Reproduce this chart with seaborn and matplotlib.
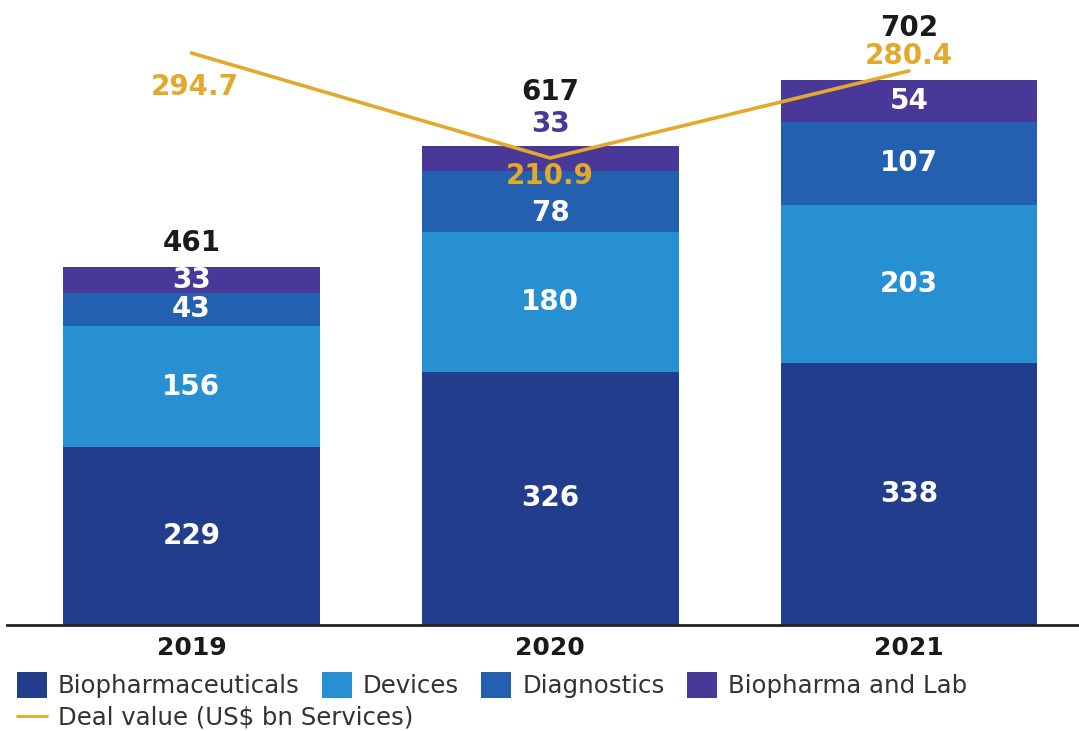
import numpy as np
import pandas as pd
import matplotlib
matplotlib.use("Agg")
import matplotlib.pyplot as plt
import seaborn as sns
from matplotlib.patches import Patch
from matplotlib.lines import Line2D

# ---- data ----
years = ["2019", "2020", "2021"]
biopharmaceuticals = [229, 326, 338]
devices = [156, 180, 203]
diagnostics = [43, 78, 107]
biopharma_lab = [33, 33, 54]
totals = [461, 617, 702]
deal_value = [294.7, 210.9, 280.4]

series_names = ["Biopharmaceuticals", "Devices", "Diagnostics", "Biopharma and Lab"]
line_name = "Deal value (US$ bn Services)"

# ---- styles ----
colors = ["#213d8b", "#2690d2", "#2460b0", "#4a3899"]
gold = "#e3a82c"

sns.set_theme(style="white")
plt.rcParams["font.family"] = ["DejaVu Sans"]

fig = plt.figure(figsize=(10.79, 7.31), dpi=100)
W, H = 1079, 731
ax = fig.add_axes([7 / W, (H - 625) / H, 1 - 7 / W, 625 / H])

df = pd.DataFrame({"year": years})
series_vals = [biopharmaceuticals, devices, diagnostics, biopharma_lab]
bottom = np.zeros(len(years))
for name, vals, col in zip(series_names, series_vals, colors):
    df[name] = vals
    sns.barplot(data=df, x="year", y=name, bottom=bottom, color=col,
                width=0.716, saturation=1, ax=ax, linewidth=0)
    bottom = bottom + np.array(vals)

ax.set_xlim(-0.514, 2.474)
ax.set_ylim(0, 804.8)
ax.set_xlabel("")
ax.set_ylabel("")
ax.set_yticks([])
for s in ["top", "right", "left"]:
    ax.spines[s].set_visible(False)
ax.spines["bottom"].set_color("#222222")
ax.spines["bottom"].set_linewidth(2)
ax.tick_params(axis="x", length=0, pad=8)
for lab in ax.get_xticklabels():
    lab.set_fontsize(18)
    lab.set_fontweight("bold")
    lab.set_color("#1a1a1a")

# segment labels
seg_offsets = {(1, 2): -11}  # (year idx, series idx): pixel offset
outside = {(1, 3)}  # labels drawn above bar
bottom = np.zeros(len(years))
for si, vals in enumerate(series_vals):
    for i, v in enumerate(vals):
        if (i, si) in outside:
            ax.annotate(str(v), (i, totals[i]), xytext=(0, 22), textcoords="offset pixels",
                        ha="center", va="center", fontsize=20, fontweight="bold", color=colors[3])
        else:
            ax.annotate(str(v), (i, bottom[i] + v / 2), xytext=(0, seg_offsets.get((i, si), 0)),
                        textcoords="offset pixels", ha="center", va="center",
                        fontsize=20, fontweight="bold", color="white")
    bottom = bottom + np.array(vals)

total_offsets = [24, 54, 52]
for i, t in enumerate(totals):
    ax.annotate(str(t), (i, t), xytext=(0, total_offsets[i]), textcoords="offset pixels",
                ha="center", va="center", fontsize=20, fontweight="bold", color="#1a1a1a")

# line on secondary axis
ax2 = ax.twinx()
sns.lineplot(x=np.arange(len(years)), y=deal_value, color=gold, linewidth=2.6, ax=ax2)
ax2.set_ylim(-161.8, 337.0)
ax2.set_yticks([])
ax2.set_ylabel("")
for s in ["top", "right", "left", "bottom"]:
    ax2.spines[s].set_visible(False)
line_offsets = [(3, -34), (0, -18), (0, 15)]
for i, v in enumerate(deal_value):
    ax2.annotate(f"{v:.1f}", (i, v), xytext=line_offsets[i], textcoords="offset pixels",
                 ha="center", va="center", fontsize=20, fontweight="bold", color=gold)

# legends
handles = [Patch(facecolor=c, edgecolor="none") for c in colors]
leg1 = fig.legend(handles, series_names, loc="center left", bbox_to_anchor=(17 / W, 1 - 685 / H),
                  ncol=4, frameon=False, fontsize=17.6, handlelength=1.23, handleheight=1.23,
                  handletextpad=0.45, columnspacing=0.9, borderpad=0, borderaxespad=0,
                  labelcolor="#333333")
leg2 = fig.legend([Line2D([0], [0], color=gold, linewidth=2)], [line_name], loc="center left",
                  bbox_to_anchor=(17 / W, 1 - 718 / H), frameon=False, fontsize=17.6,
                  handlelength=1.23, handletextpad=0.45, borderpad=0, borderaxespad=0,
                  labelcolor="#333333")

fig.savefig("out.png", dpi=100, facecolor="white")
